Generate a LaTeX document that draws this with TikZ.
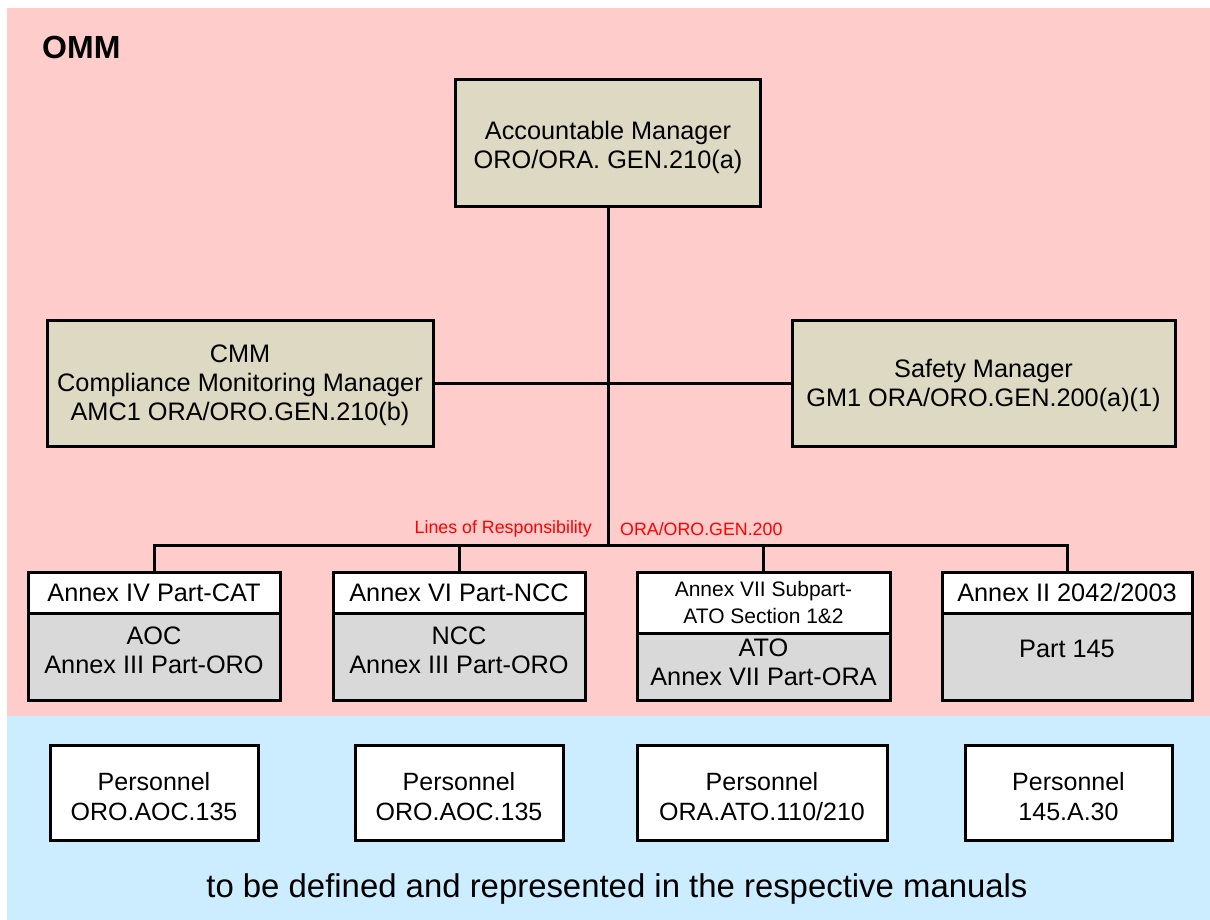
\documentclass[tikz,border=0pt]{standalone}
\usepackage{fontspec}
\setmainfont{Liberation Sans}
\definecolor{ommpink}{HTML}{FFCCCC}
\definecolor{manualblue}{HTML}{CCECFF}
\definecolor{mgrfill}{HTML}{DDD9C3}
\definecolor{partgrey}{HTML}{D9D9D9}
\definecolor{resred}{HTML}{FF0000}
% struts that pad the first line above or the last line below
\newcommand{\padtop}[1]{\rule{0pt}{#1}}
\newcommand{\padbot}[1]{\rule[-#1]{0pt}{#1}}
\tikzset{
  base/.style={draw=black, line width=3pt, align=center, inner sep=0pt,
    font=\fontsize{25.3}{29}\selectfont},
  mgr/.style={base, fill=mgrfill},
  hdr/.style={base, fill=white},
  body/.style={base, fill=partgrey},
  pers/.style={base, fill=white, font=\fontsize{25}{30}\selectfont},
  link/.style={draw=black, line width=3pt},
  reslabel/.style={text=resred, inner sep=0pt, font=\fontsize{17.8}{20}\selectfont}
}
\begin{document}
\begin{tikzpicture}[x=1pt,y=-1pt]
\useasboundingbox (0,0) rectangle (1210,920);
% background bands
\fill[ommpink] (7,8) rectangle (1210,716);
\fill[manualblue] (7,716) rectangle (1210,920);
\node[anchor=west, inner sep=0pt, font=\fontsize{32}{35}\bfseries\selectfont] (omm) at (42,47) {OMM};

% management
\node[mgr, minimum width=305pt, minimum height=127pt] (acc) at (608,143.5)
  {\padtop{26.5pt}Accountable Manager\\ORO/ORA. GEN.210(a)};
\node[mgr, minimum width=386pt, minimum height=126pt] (cmm) at (240,383)
  {\padtop{23pt}CMM\\Compliance Monitoring Manager\\AMC1 ORA/ORO.GEN.210(b)};
\node[mgr, minimum width=383pt, minimum height=126pt] (safety) at (983.5,383)
  {\padtop{23.5pt}Safety Manager\\GM1 ORA/ORO.GEN.200(a)(1)};

% annex headers
\node[hdr, minimum width=252pt, minimum height=41pt] (h1) at (154,592.5) {Annex IV Part-CAT};
\node[hdr, minimum width=252pt, minimum height=41pt] (h2) at (459,592.5) {Annex VI Part-NCC};
\node[hdr, minimum width=253pt, minimum height=61pt, font=\fontsize{21}{26.5}\selectfont] (h3) at (763.5,602.5)
  {Annex VII Subpart-\\ATO Section 1\&2};
\node[hdr, minimum width=250pt, minimum height=41pt] (h4) at (1067,592.5) {Annex II 2042/2003};

% organisation bodies
\node[body, minimum width=252pt, minimum height=87pt] (b1) at (154,656.5) {AOC\\Annex III Part-ORO\padbot{12pt}};
\node[body, minimum width=252pt, minimum height=87pt] (b2) at (459,656.5) {NCC\\Annex III Part-ORO\padbot{12pt}};
\node[body, minimum width=253pt, minimum height=67pt] (b3) at (763.5,666.5) {ATO\\Annex VII Part-ORA\padbot{8pt}};
\node[body, minimum width=250pt, minimum height=87pt] (b4) at (1067,656.5) {Part 145\padbot{15pt}};

% personnel
\node[pers, minimum width=208pt, minimum height=95pt] (p1) at (154,792.5) {\padtop{25.3pt}Personnel\\ORO.AOC.135};
\node[pers, minimum width=208pt, minimum height=95pt] (p2) at (459,792.5) {\padtop{25.3pt}Personnel\\ORO.AOC.135};
\node[pers, minimum width=250pt, minimum height=95pt] (p3) at (762,792.5) {\padtop{25.3pt}Personnel\\ORA.ATO.110/210};
\node[pers, minimum width=207pt, minimum height=95pt] (p4) at (1068.5,792.5) {\padtop{25.3pt}Personnel\\145.A.30};

\node[inner sep=0pt, font=\fontsize{32.9}{37}\selectfont] (manuals) at (617,889)
  {to be defined and represented in the respective manuals};

% lines of responsibility
\coordinate (bus) at (608,545);
\draw[link] (acc.south) -- (bus);
\draw[link] (cmm.east) -- (safety.west);
\draw[link] (h1.north) |- (bus) -| (h4.north);
\draw[link] (h2.north) -- (h2.north |- bus);
\draw[link] (h3.north) -- (h3.north |- bus);
\node[reslabel, anchor=east] (resA) at (592,529) {Lines of Responsibility};
\node[reslabel, anchor=west] (resB) at (620,529) {ORA/ORO.GEN.200};
\end{tikzpicture}
\end{document}
